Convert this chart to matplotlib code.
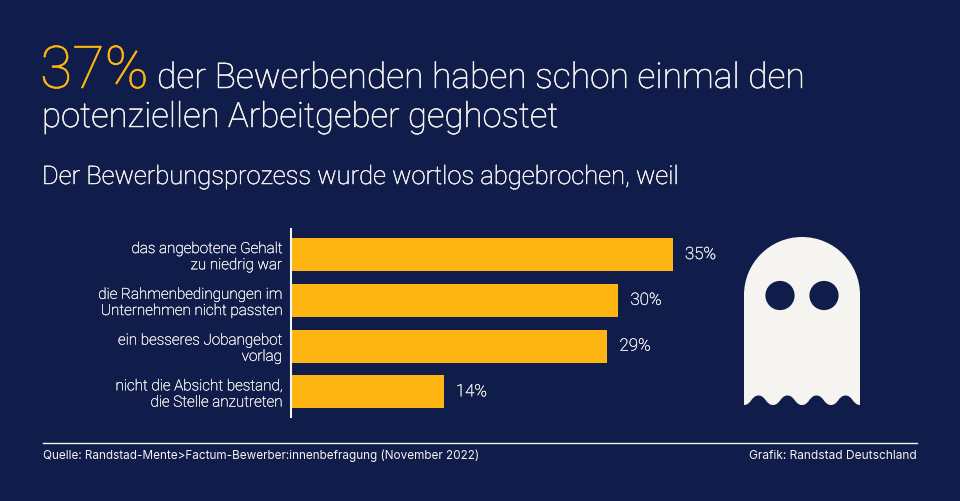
"""Bewerbende-Ghosting Grafik (Randstad)"""
import numpy as np
import matplotlib
matplotlib.use("Agg")
import matplotlib.pyplot as plt
import matplotlib.patheffects as pe
from matplotlib.path import Path
from matplotlib.patches import PathPatch, Circle

# Daten
reasons = [
    "das angebotene Gehalt\nzu niedrig war",
    "die Rahmenbedingungen im\nUnternehmen nicht passten",
    "ein besseres Jobangebot\nvorlag",
    "nicht die Absicht bestand,\ndie Stelle anzutreten",
]
shares = [35, 30, 29, 14]

NAVY = "#101c4a"
YELLOW = "#ffb511"
WHITE = "#f5f4f0"
FONT = "Roboto"

plt.rcParams["font.family"] = [FONT, "DejaVu Sans"]


def thicken(color, width=0.35):
    # Roboto Light ist etwas zu duenn, Regular zu kraeftig
    return [pe.withStroke(linewidth=width, foreground=color)]


fig = plt.figure(figsize=(9.6, 5.02), dpi=100, facecolor=NAVY)

# Overlay in Pixelkoordinaten fuer Texte und Geist
bg = fig.add_axes([0, 0, 1, 1])
bg.set_xlim(0, 960)
bg.set_ylim(502, 0)
bg.axis("off")

bg.text(40, 89, "37%", color=YELLOW, fontsize=42.5, fontweight="light", va="baseline",
        path_effects=thicken(YELLOW))
bg.text(157, 89, "der Bewerbenden haben schon einmal den", color=WHITE, fontsize=25.5,
        fontweight="light", va="baseline", path_effects=thicken(WHITE))
bg.text(42, 128, "potenziellen Arbeitgeber geghostet", color=WHITE, fontsize=25,
        fontweight="light", va="baseline", path_effects=thicken(WHITE))
bg.text(42, 185, "Der Bewerbungsprozess wurde wortlos abgebrochen, weil", color=WHITE,
        fontsize=18.4, fontweight="light", va="baseline", path_effects=thicken(WHITE))

# Fusszeile
bg.plot([43, 917], [443.5, 443.5], color=WHITE, lw=1)
bg.text(43, 459, "Quelle: Randstad-Mente>Factum-Bewerber:innenbefragung (November 2022)",
        color=WHITE, fontsize=8.45, va="baseline", family=["Inter", "DejaVu Sans"])
bg.text(917, 459, "Grafik: Randstad Deutschland", color=WHITE, fontsize=8.6,
        ha="right", va="baseline", family=["Inter", "DejaVu Sans"])

# Geist
left, right, top, bottom, crest = 744, 860, 238, 406, 396.5
radius = (right - left) / 2
cx = (left + right) / 2
k = 0.5523 * radius
verts = [(left, bottom), (left, top + radius),
         (left, top + radius - k), (cx - k, top), (cx, top),
         (cx + k, top), (right, top + radius - k), (right, top + radius),
         (right, bottom)]
codes = [Path.MOVETO, Path.LINETO,
         Path.CURVE4, Path.CURVE4, Path.CURVE4,
         Path.CURVE4, Path.CURVE4, Path.CURVE4,
         Path.LINETO]
step = (right - left) / 8
x = right
for i in range(8):
    nx = x - step
    y_end = crest if i % 2 == 0 else bottom
    y_start = bottom if i % 2 == 0 else crest
    verts += [(x - step * 0.5, y_start), (nx + step * 0.5, y_end), (nx, y_end)]
    codes += [Path.CURVE4] * 3
    x = nx
verts.append((left, bottom))
codes.append(Path.CLOSEPOLY)
bg.add_patch(PathPatch(Path(verts, codes), facecolor=WHITE, edgecolor="none"))
for ex in (780, 824):
    bg.add_patch(Circle((ex, 296.5), 14.6, facecolor=NAVY, edgecolor="none"))

# Balken
ax = fig.add_axes([291 / 960, 1 - 418 / 502, 400 / 960, 188 / 502])
ax.patch.set_alpha(0)
ypos = np.arange(len(shares))
bars = ax.barh(ypos, shares, height=0.72, color=YELLOW)
ax.set_xlim(0, 400 / 10.91)
ax.set_ylim(3.55, -0.558)
ax.set_xticks([])
ax.set_yticks(ypos, reasons, color=WHITE, fontsize=10.95, fontweight="light", linespacing=1.2)
for lab in ax.get_yticklabels():
    lab.set_path_effects(thicken(WHITE, 0.25))
ax.tick_params(axis="y", length=0, pad=6.5)
for side in ("top", "right", "bottom"):
    ax.spines[side].set_visible(False)
ax.spines["left"].set_color(WHITE)
ax.spines["left"].set_linewidth(1.5)
labels = ax.bar_label(bars, labels=[f"{v}%" for v in shares], padding=8.7, color=WHITE,
                      fontsize=12.2, fontweight="light")
for lab in labels:
    lab.set_path_effects(thicken(WHITE, 0.25))

fig.savefig("out.png", dpi=100, facecolor=NAVY)
